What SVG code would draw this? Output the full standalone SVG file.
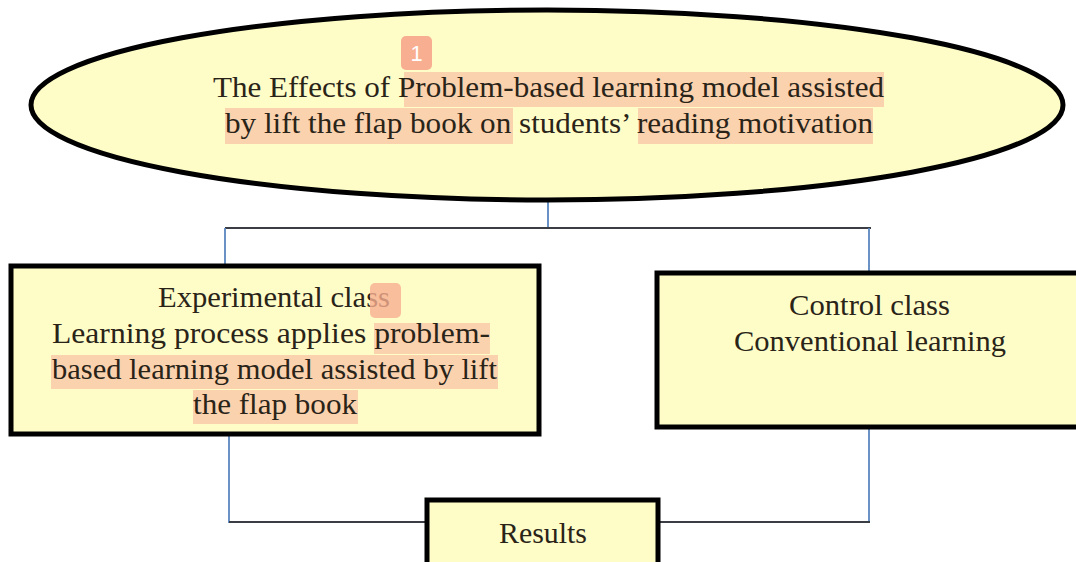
<svg xmlns="http://www.w3.org/2000/svg" width="1076" height="562" viewBox="0 0 1076 562">
<style>
.node{fill:#fefdc8;stroke:#000;stroke-width:5}
.t{font-family:"Liberation Serif","Times New Roman",serif;font-size:30px;fill:#2a2418;text-anchor:middle}
.hl{fill:#fbd2ae}
.badge{fill:#f8ae90}
.bt{font-family:"Liberation Sans",Arial,sans-serif;font-size:22px;fill:#fff;text-anchor:middle}
.blue{stroke:#5a86bf;stroke-width:1.8;fill:none}
.dark{stroke:#3a3d44;stroke-width:2;fill:none}
</style>
<rect width="1076" height="562" fill="#fff"/>
<g id="connectors">
<line class="blue" x1="548" y1="186" x2="548" y2="228"/>
<line class="dark" x1="225" y1="228" x2="871" y2="228"/>
<line class="blue" x1="225" y1="228" x2="225" y2="268"/>
<line class="blue" x1="869" y1="228" x2="869" y2="274"/>
<line class="blue" x1="229" y1="432" x2="229" y2="523"/>
<line class="blue" x1="869" y1="426" x2="869" y2="523"/>
<line class="dark" x1="229" y1="522" x2="428" y2="522"/>
<line class="dark" x1="658" y1="522" x2="870" y2="522"/>
</g>
<g id="title">
<ellipse class="node" cx="547" cy="105" rx="516" ry="95"/>
<rect class="hl" x="404" y="72" width="480" height="35"/>
<rect class="hl" x="225" y="108" width="288" height="36"/>
<rect class="hl" x="638" y="108" width="235" height="36"/>
<text class="t" x="548.5" y="97" textLength="671" lengthAdjust="spacingAndGlyphs">The Effects of Problem-based learning model assisted</text>
<text class="t" x="549" y="133" textLength="648" lengthAdjust="spacingAndGlyphs">by lift the flap book on students’ reading motivation</text>
<rect class="badge" x="401" y="36" width="31" height="34" rx="5"/>
<text class="bt" x="416.5" y="61">1</text>
</g>
<g id="experimental">
<rect class="node" x="11" y="266" width="528" height="168"/>
<rect class="hl" x="374" y="323" width="116" height="31"/>
<rect class="hl" x="51" y="355" width="447" height="34"/>
<rect class="hl" x="193" y="390" width="165" height="34"/>
<text class="t" x="274" y="307" textLength="232" lengthAdjust="spacingAndGlyphs">Experimental class</text>
<text class="t" x="271" y="343" textLength="438" lengthAdjust="spacingAndGlyphs">Learning process applies problem-</text>
<text class="t" x="274.5" y="379" textLength="445" lengthAdjust="spacingAndGlyphs">based learning model assisted by lift</text>
<text class="t" x="275" y="414" textLength="164" lengthAdjust="spacingAndGlyphs">the flap book</text>
<rect class="badge" x="370" y="283" width="31" height="35" rx="5" opacity="0.8"/>
</g>
<g id="control">
<rect class="node" x="657" y="273" width="425" height="154"/>
<text class="t" x="869.5" y="315" textLength="161" lengthAdjust="spacingAndGlyphs">Control class</text>
<text class="t" x="870" y="351" textLength="272" lengthAdjust="spacingAndGlyphs">Conventional learning</text>
</g>
<g id="results">
<rect class="node" x="427" y="500" width="231" height="75"/>
<text class="t" x="543" y="543" textLength="88" lengthAdjust="spacingAndGlyphs">Results</text>
</g>
</svg>
